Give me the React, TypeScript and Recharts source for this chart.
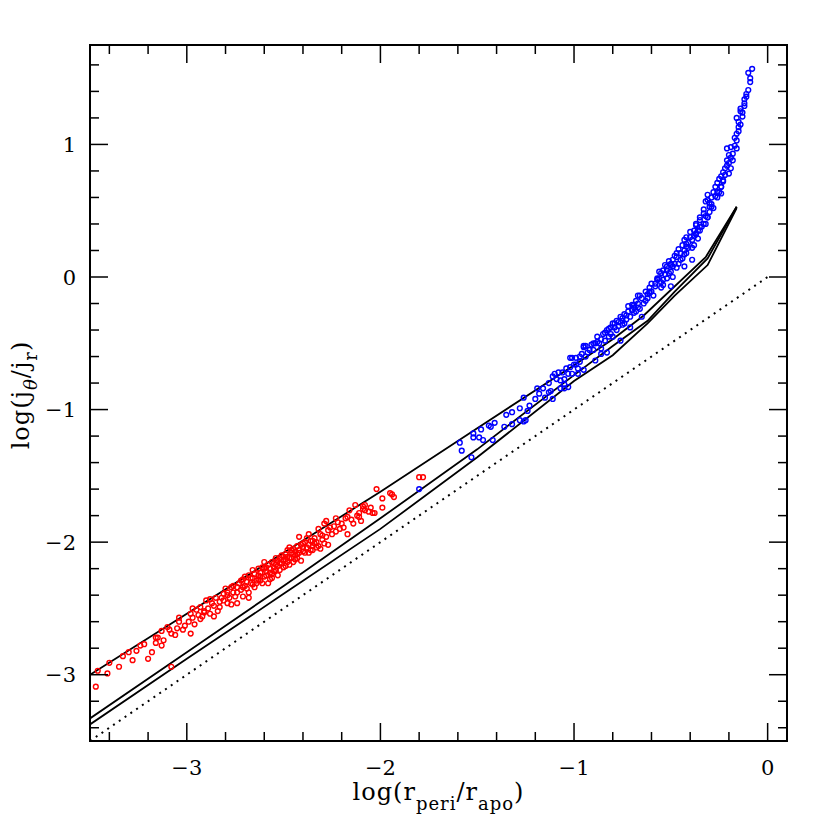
import React from 'react';
import { ComposedChart, Scatter, Line, XAxis, YAxis, ReferenceArea } from 'recharts';

// log(r_peri/r_apo) vs log(j_theta/j_r): red + blue orbit samples, three model curves, dotted 1:1 line

const redPoints: Array<[number, number]> = [
  [-3.47, -3.09], [-3.46, -2.97], [-3.41, -2.99], [-3.40, -2.91], [-3.35, -2.94], [-3.33, -2.86], [-3.26, -2.82],
  [-3.24, -2.78], [-3.20, -2.88], [-3.22, -2.77], [-3.18, -2.83], [-3.16, -2.72], [-3.15, -2.72], [-3.16, -2.76],
  [-3.13, -2.78], [-3.13, -2.67], [-3.10, -2.64], [-3.09, -2.66], [-3.08, -2.69], [-3.08, -2.94], [-3.05, -2.65],
  [-3.04, -2.60], [-3.04, -2.57], [-3.01, -2.63], [-2.99, -2.60], [-2.98, -2.69], [-2.98, -2.54], [-2.97, -2.50],
  [-2.97, -2.57], [-2.94, -2.55], [-2.92, -2.56], [-2.91, -2.53], [-2.91, -2.52], [-2.89, -2.50], [-2.88, -2.54],
  [-2.90, -2.44], [-2.88, -2.43], [-2.87, -2.46], [-2.85, -2.42], [-2.84, -2.52], [-2.82, -2.42], [-2.81, -2.39],
  [-2.79, -2.38], [-2.79, -2.40], [-2.80, -2.35], [-2.79, -2.46], [-2.77, -2.34], [-2.74, -2.46], [-2.74, -2.38],
  [-2.73, -2.31], [-2.72, -2.29], [-2.71, -2.34], [-2.70, -2.26], [-2.68, -2.38], [-2.67, -2.31], [-2.66, -2.21],
  [-2.65, -2.34], [-2.64, -2.29], [-2.63, -2.25], [-2.62, -2.29], [-2.61, -2.31], [-2.60, -2.15], [-2.60, -2.26],
  [-2.59, -2.19], [-2.57, -2.28], [-2.56, -2.24], [-2.55, -2.16], [-2.54, -2.21], [-2.54, -2.12], [-2.53, -2.18],
  [-2.52, -2.21], [-2.51, -2.10], [-2.50, -2.14], [-2.49, -2.18], [-2.48, -2.06], [-2.48, -2.11], [-2.47, -2.04],
  [-2.46, -2.08], [-2.45, -2.15], [-2.44, -2.10], [-2.43, -2.03], [-2.42, -2.06], [-2.42, -1.96], [-2.41, -2.14],
  [-2.40, -2.01], [-2.39, -2.08], [-2.38, -1.97], [-2.37, -1.94], [-2.36, -2.06], [-2.35, -2.03], [-2.35, -1.99],
  [-2.33, -2.00], [-2.32, -1.90], [-2.31, -2.05], [-2.30, -1.95], [-2.29, -2.01], [-2.29, -1.86], [-2.28, -1.84],
  [-2.27, -1.91], [-2.25, -1.94], [-2.23, -1.82], [-2.23, -1.92], [-2.22, -1.85], [-2.19, -1.89], [-2.18, -1.82],
  [-2.17, -1.94], [-2.17, -1.81], [-2.16, -1.76], [-2.14, -1.86], [-2.13, -1.72], [-2.11, -1.78], [-2.11, -1.81],
  [-2.09, -1.75], [-2.08, -1.72], [-2.09, -1.73], [-2.08, -1.76], [-2.04, -1.78], [-2.03, -1.78], [-2.02, -1.60],
  [-1.99, -1.74], [-1.99, -1.67], [-1.95, -1.63], [-1.94, -1.64], [-1.93, -1.66], [-1.80, -1.51], [-1.78, -1.51],
  [-2.76, -2.33], [-2.74, -2.34], [-2.71, -2.28], [-2.69, -2.30], [-2.68, -2.25], [-2.66, -2.27], [-2.65, -2.24],
  [-2.63, -2.20], [-2.62, -2.23], [-2.61, -2.19], [-2.59, -2.22], [-2.58, -2.17], [-2.57, -2.20], [-2.56, -2.15],
  [-2.55, -2.19], [-2.53, -2.14], [-2.52, -2.12], [-2.51, -2.16], [-2.50, -2.11], [-2.49, -2.09], [-2.47, -2.12],
  [-2.46, -2.06], [-2.45, -2.05], [-2.44, -2.07], [-2.43, -2.09], [-2.41, -2.02], [-2.40, -2.04], [-2.39, -2.00],
  [-2.37, -2.02], [-2.36, -1.99], [-2.34, -1.97], [-2.33, -2.04], [-2.31, -1.94], [-2.56, -2.27], [-2.53, -2.25],
  [-2.47, -2.17], [-2.44, -2.13], [-2.70, -2.33], [-2.64, -2.31], [-2.58, -2.31],
  [-2.95, -2.51], [-2.93, -2.49], [-2.86, -2.48], [-2.83, -2.45], [-2.81, -2.44], [-2.78, -2.42], [-2.76, -2.38],
  [-2.75, -2.41], [-2.72, -2.36], [-2.69, -2.35], [-2.67, -2.27], [-2.66, -2.32], [-2.63, -2.28], [-2.62, -2.26],
  [-2.60, -2.20], [-2.59, -2.25], [-2.57, -2.23], [-2.55, -2.22], [-2.54, -2.17], [-2.52, -2.16], [-2.50, -2.19],
  [-2.49, -2.13], [-2.48, -2.15], [-2.46, -2.12], [-2.45, -2.09], [-2.43, -2.12], [-2.42, -2.08], [-2.40, -2.07],
  [-2.38, -2.04], [-2.37, -2.08], [-2.35, -2.06], [-2.34, -2.01], [-2.32, -2.03], [-2.30, -1.98], [-2.28, -1.96],
  [-2.27, -2.02], [-2.26, -1.89], [-2.24, -1.88], [-2.21, -1.90], [-2.20, -1.86], [-2.15, -1.83], [-2.12, -1.80],
  [-2.10, -1.84], [-2.06, -1.77], [-2.05, -1.74], [-3.30, -2.83], [-3.28, -2.89], [-3.12, -2.74], [-3.06, -2.70],
  [-3.02, -2.66], [-2.96, -2.62], [-2.93, -2.58], [-2.86, -2.56], [-2.83, -2.49], [-2.77, -2.47], [-2.71, -2.41],
  [-2.68, -2.42],
];

const bluePoints: Array<[number, number]> = [
  [-0.08, 1.57], [-0.10, 1.54], [-0.09, 1.50], [-0.09, 1.47], [-0.10, 1.41], [-0.11, 1.38], [-0.12, 1.34],
  [-0.12, 1.31], [-0.14, 1.27], [-0.14, 1.25], [-0.13, 1.21], [-0.16, 1.20], [-0.15, 1.17], [-0.15, 1.13],
  [-0.15, 1.10], [-0.16, 1.03], [-0.17, 1.05], [-0.16, 0.97], [-0.19, 0.98], [-0.21, 0.97], [-0.18, 0.93],
  [-0.20, 0.92], [-0.21, 0.88], [-0.19, 0.82], [-0.22, 0.82], [-0.23, 0.79], [-0.20, 0.78], [-0.24, 0.76],
  [-0.23, 0.73], [-0.26, 0.71], [-0.24, 0.68], [-0.25, 0.64], [-0.28, 0.64], [-0.27, 0.61], [-0.31, 0.58],
  [-0.29, 0.55], [-0.30, 0.53], [-0.33, 0.48], [-0.31, 0.45], [-0.35, 0.43], [-0.32, 0.40], [-0.37, 0.39],
  [-0.35, 0.35], [-0.37, 0.33], [-0.36, 0.29], [-0.39, 0.28], [-0.38, 0.24], [-0.42, 0.25], [-0.41, 0.22],
  [-0.43, 0.20], [-0.42, 0.18], [-0.45, 0.18], [-0.44, 0.14], [-0.47, 0.15], [-0.49, 0.13], [-0.46, 0.10],
  [-0.50, 0.10], [-0.52, 0.08], [-0.49, 0.08], [-0.54, 0.05], [-0.51, 0.03], [-0.55, 0.03], [-0.56, -0.01],
  [-0.54, -0.02], [-0.58, -0.05], [-0.55, -0.08], [-0.61, -0.08], [-0.61, -0.11], [-0.59, -0.14], [-0.66, -0.14],
  [-0.63, -0.18], [-0.67, -0.20], [-0.69, -0.21], [-0.66, -0.24], [-0.70, -0.25], [-0.74, -0.28], [-0.71, -0.30],
  [-0.75, -0.31], [-0.77, -0.34], [-0.74, -0.35], [-0.80, -0.35], [-0.81, -0.38], [-0.78, -0.40], [-0.83, -0.40],
  [-0.85, -0.43], [-0.82, -0.45], [-0.88, -0.49], [-0.86, -0.54], [-0.94, -0.52], [-0.93, -0.57], [-0.97, -0.60],
  [-1.01, -0.61], [-0.89, -0.50], [-0.95, -0.52], [-1.02, -0.61], [-0.99, -0.61], [-1.02, -0.68], [-0.98, -0.69],
  [-0.95, -0.70], [-1.01, -0.73], [-1.11, -0.75], [-1.10, -0.73], [-1.08, -0.72], [-1.06, -0.72], [-1.09, -0.77],
  [-1.07, -0.78], [-1.05, -0.81], [-1.03, -0.83], [-1.07, -0.84], [-1.05, -0.84], [-1.19, -0.84], [-1.12, -0.86],
  [-1.13, -0.87], [-1.15, -0.91], [-1.11, -0.92], [-1.26, -0.91], [-1.23, -0.97], [-1.28, -0.99], [-1.32, -1.02],
  [-1.35, -1.04], [-1.24, -1.01], [-1.28, -1.08], [-1.25, -1.08], [-1.26, -1.09], [-1.32, -1.11], [-1.36, -1.13],
  [-1.41, -1.10], [-1.44, -1.12], [-1.43, -1.13], [-1.48, -1.15], [-1.52, -1.18], [-1.49, -1.21], [-1.47, -1.23],
  [-1.52, -1.21], [-1.42, -1.23], [-1.59, -1.25], [-1.58, -1.31], [-1.53, -1.36], [-1.80, -1.60],
  [-0.39, 0.13], [-0.49, 0.00], [-0.50, -0.07], [-0.54, -0.06], [-0.61, -0.12], [-0.62, -0.16], [-0.67, -0.14],
  [-0.69, -0.23], [-0.68, -0.26], [-0.73, -0.29], [-0.65, -0.30], [-0.75, -0.33], [-0.79, -0.35], [-0.71, -0.38],
  [-0.80, -0.45], [-0.76, -0.48], [-0.90, -0.50], [-0.86, -0.58], [-0.83, -0.57], [-0.95, -0.53], [-0.89, -0.63],
  [-1.03, -0.73], [-0.98, -0.73], [-0.38, 0.35], [-0.35, 0.38], [-0.33, 0.40], [-0.31, 0.45], [-0.30, 0.49],
  [-0.29, 0.53], [-0.32, 0.57], [-0.31, 0.62], [-0.26, 0.64], [-0.24, 0.68], [-0.23, 0.72], [-0.42, 0.23],
  [-0.43, 0.28], [-0.40, 0.30], [-0.37, 0.32], [-0.47, 0.18], [-0.43, 0.08], [-0.50, 0.09], [-0.52, -0.01],
  [-0.57, -0.02],
  [-0.99, -0.66], [-0.97, -0.64], [-0.96, -0.58], [-0.94, -0.60], [-0.92, -0.55], [-0.91, -0.51], [-0.90, -0.55],
  [-0.88, -0.45], [-0.87, -0.50], [-0.86, -0.47], [-0.84, -0.42], [-0.84, -0.48], [-0.82, -0.39], [-0.81, -0.43],
  [-0.79, -0.38], [-0.78, -0.33], [-0.77, -0.37], [-0.76, -0.30], [-0.75, -0.36], [-0.73, -0.32], [-0.72, -0.26],
  [-0.72, -0.22], [-0.70, -0.21], [-0.69, -0.27], [-0.68, -0.18], [-0.67, -0.23], [-0.65, -0.16], [-0.64, -0.20],
  [-0.63, -0.11], [-0.62, -0.13], [-0.60, -0.05], [-0.60, -0.11], [-0.58, -0.07], [-0.57, -0.01], [-0.56, 0.04],
  [-0.55, -0.04], [-0.53, 0.02], [-0.53, 0.09], [-0.52, 0.05], [-0.51, 0.12], [-0.50, 0.04], [-0.48, 0.10],
  [-0.48, 0.16], [-0.47, 0.07], [-0.46, 0.21], [-0.45, 0.13], [-0.44, 0.24], [-0.43, 0.17], [-0.42, 0.30],
  [-0.41, 0.26], [-0.40, 0.34], [-0.39, 0.22], [-0.38, 0.31], [-0.37, 0.40], [-0.36, 0.35], [-0.35, 0.45],
  [-0.34, 0.38], [-0.33, 0.51], [-0.32, 0.46], [-0.30, 0.56], [-0.29, 0.60], [-0.28, 0.52], [-0.27, 0.68],
  [-0.26, 0.60], [-0.25, 0.74], [-0.24, 0.63], [-0.22, 0.77], [-0.21, 0.84], [-0.20, 0.86], [-0.19, 0.90],
  [-0.18, 0.88], [-0.17, 0.99], [-0.16, 1.08], [-0.14, 1.15], [-0.13, 1.24], [-0.12, 1.29], [-0.11, 1.36],
  [-1.13, -0.80], [-1.16, -0.84], [-1.20, -0.92], [-1.18, -0.88], [-1.05, -0.77], [-1.04, -0.69], [-1.00, -0.66],
];

// model curves
const upperCurve: Array<[number, number]> = [
  [-3.5, -3.0], [-3.0, -2.54], [-2.5, -2.08], [-2.0, -1.62], [-1.5, -1.14], [-1.0, -0.665],
  [-0.8, -0.47], [-0.64, -0.29], [-0.32, 0.15], [-0.16, 0.53],
];
const middleCurve: Array<[number, number]> = [
  [-3.5, -3.33], [-3.0, -2.83], [-2.5, -2.33], [-2.0, -1.82], [-1.5, -1.30], [-1.0, -0.74],
  [-0.8, -0.52], [-0.62, -0.33], [-0.48, -0.11], [-0.31, 0.14], [-0.16, 0.53],
];
const lowerCurve: Array<[number, number]> = [
  [-3.5, -3.375], [-3.0, -2.88], [-2.5, -2.39], [-2.0, -1.90], [-1.5, -1.36], [-1.0, -0.785],
  [-0.8, -0.59], [-0.62, -0.35], [-0.48, -0.14], [-0.31, 0.09], [-0.16, 0.52],
];
const equalityLine: Array<[number, number]> = [[-3.5, -3.5], [0, 0]];

const xTicks = [-3.4, -3.2, -3, -2.8, -2.6, -2.4, -2.2, -2, -1.8, -1.6, -1.4, -1.2, -1, -0.8, -0.6, -0.4, -0.2, 0];
const yTicks = [-3.4, -3.2, -3, -2.8, -2.6, -2.4, -2.2, -2, -1.8, -1.6, -1.4, -1.2, -1, -0.8, -0.6, -0.4, -0.2, 0,
  0.2, 0.4, 0.6, 0.8, 1, 1.2, 1.4, 1.6];

const toRows = (pts: Array<[number, number]>) => pts.map(([x, y]) => ({ x, y }));

const W = 822;
const H = 822;
const PL = 82; // plot box in svg coords
const PR = 779;
const PT = 37;
const PB = 733;
const FONT = '"DejaVu Serif", serif';

const isMajor = (v: number) => Math.abs(v - Math.round(v)) < 1e-6;
const fmt = (v: number) => (v < 0 ? '\u2212' + Math.abs(v) : String(v));

const XTick = (props: any) => {
  const { x, payload } = props;
  const v = payload.value;
  const len = isMajor(v) ? 18 : 9;
  return (
    <g>
      <line x1={x} x2={x} y1={PB} y2={PB - len} stroke="#000" strokeWidth={1.5} />
      <line x1={x} x2={x} y1={PT} y2={PT + len} stroke="#000" strokeWidth={1.5} />
      {isMajor(v) && (
        <text x={x} y={PB + 34} textAnchor="middle" fontSize={21} fontFamily={FONT} fill="#000">
          {fmt(v)}
        </text>
      )}
    </g>
  );
};

const YTick = (props: any) => {
  const { y, payload } = props;
  const v = payload.value;
  const len = isMajor(v) ? 18 : 9;
  return (
    <g>
      <line x1={PL} x2={PL + len} y1={y} y2={y} stroke="#000" strokeWidth={1.5} />
      <line x1={PR} x2={PR - len} y1={y} y2={y} stroke="#000" strokeWidth={1.5} />
      {isMajor(v) && (
        <text x={PL - 14} y={y + 7.5} textAnchor="end" fontSize={21} fontFamily={FONT} fill="#000">
          {fmt(v)}
        </text>
      )}
    </g>
  );
};

const XTitle = () => (
  <text x={(PL + PR) / 2} y={792} textAnchor="middle" fontSize={24} fontFamily={FONT} letterSpacing={1} fill="#000">
    log(r<tspan dy={10} fontSize={18}>peri</tspan>
    <tspan dy={-10}>/r</tspan>
    <tspan dy={10} fontSize={18}>apo</tspan>
    <tspan dy={-10}>)</tspan>
  </text>
);

const YTitle = () => (
  <text transform="translate(21,387) rotate(-90)" x={0} y={0} textAnchor="middle" fontSize={24} fontFamily={FONT}
    letterSpacing={1} fill="#000">
    log(j<tspan dy={8} fontSize={18} fontStyle="italic">θ</tspan>
    <tspan dy={-8}>/j</tspan>
    <tspan dy={8} fontSize={18}>r</tspan>
    <tspan dy={-8}>)</tspan>
  </text>
);

const ring = (color: string) => (props: any) => (
  <circle cx={props.cx} cy={props.cy} r={2.4} fill="none" stroke={color} strokeWidth={1.4} />
);

export default function App() {
  return (
    <div style={{ width: W, height: H, background: '#fff' }}>
      <ComposedChart width={W} height={H} margin={{ top: PT, right: W - PR, bottom: 0, left: 0 }}>
        <XAxis
          dataKey="x"
          type="number"
          domain={[-3.5, 0.1]}
          allowDataOverflow
          ticks={xTicks}
          interval={0}
          height={H - PB}
          tickSize={0}
          tickMargin={0}
          axisLine={false}
          tickLine={false}
          tick={<XTick />}
          label={<XTitle />}
        />
        <YAxis
          dataKey="y"
          type="number"
          domain={[-3.5, 1.75]}
          allowDataOverflow
          ticks={yTicks}
          interval={0}
          width={PL}
          tickSize={0}
          tickMargin={0}
          axisLine={false}
          tickLine={false}
          tick={<YTick />}
          label={<YTitle />}
        />
        <ReferenceArea x1={-3.5} x2={0.1} y1={-3.5} y2={1.75} fill="none" stroke="#000" strokeWidth={2} ifOverflow="visible" />
        <Line data={toRows(equalityLine)} dataKey="y" type="linear" stroke="#000" strokeWidth={2}
          strokeDasharray="2 5" dot={false} isAnimationActive={false} />
        <Line data={toRows(upperCurve)} dataKey="y" type="linear" stroke="#000" strokeWidth={1.8}
          dot={false} isAnimationActive={false} />
        <Line data={toRows(middleCurve)} dataKey="y" type="linear" stroke="#000" strokeWidth={1.8}
          dot={false} isAnimationActive={false} />
        <Line data={toRows(lowerCurve)} dataKey="y" type="linear" stroke="#000" strokeWidth={1.8}
          dot={false} isAnimationActive={false} />
        <Scatter data={toRows(redPoints)} shape={ring('#ff0000')} isAnimationActive={false} />
        <Scatter data={toRows(bluePoints)} shape={ring('#0000ff')} isAnimationActive={false} />
      </ComposedChart>
    </div>
  );
}
